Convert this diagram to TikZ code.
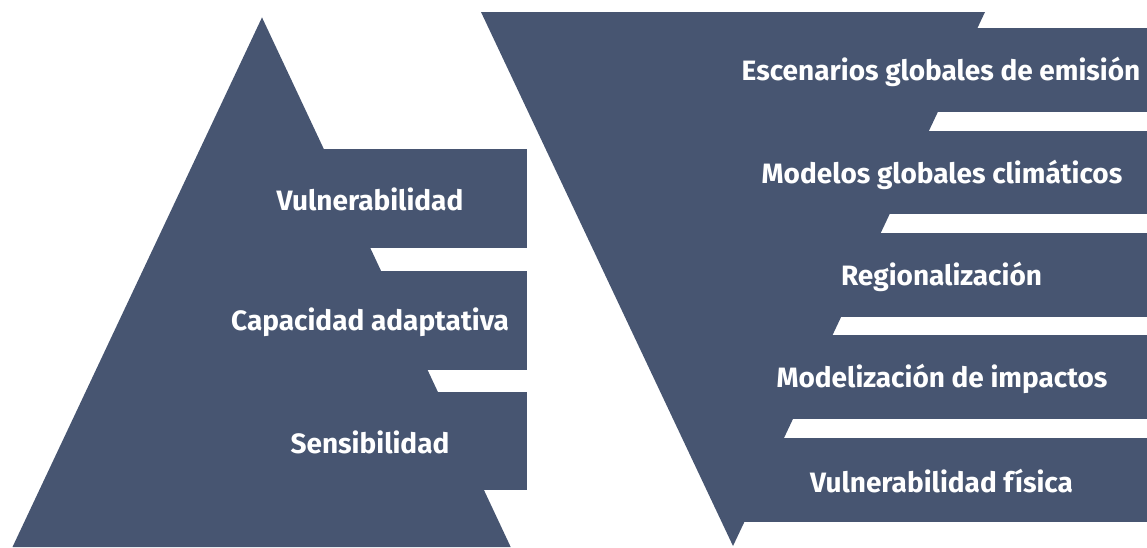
\documentclass[tikz,border=0pt]{standalone}
\usepackage{fontspec}
\usepackage{xcolor}
\usepackage{tikz}
\newfontfamily\bandfont{Fira Sans Bold}
\definecolor{pizarra}{HTML}{475571}

\begin{document}
\begin{tikzpicture}[x=1pt,y=-1pt,
    bandlabel/.style={text=white, inner sep=0pt, font=\bandfont\fontsize{28}{31}\selectfont}]
  \useasboundingbox (0,0) rectangle (1147,547);
  % Piramide izquierda
  \fill[pizarra] (12.5,547) -- (262,17.4) -- (510.7,547) -- cycle;
  \fill[pizarra] (262,149) rectangle (527,247.6);
  \fill[pizarra] (262,270.7) rectangle (527,369.7);
  \fill[pizarra] (262,392) rectangle (527,490.4);
  \node[bandlabel] (vuln) at (370,199) {Vulnerabilidad};
  \node[bandlabel] (capad) at (370,322) {Capacidad adaptativa};
  \node[bandlabel] (sens) at (370,442) {Sensibilidad};
  % Embudo derecho
  \fill[pizarra] (481,12) -- (985,12) -- (733,546) -- cycle;
  \fill[pizarra] (733,28) rectangle (1147,111.7);
  \fill[pizarra] (733,130.9) rectangle (1147,214);
  \fill[pizarra] (733,232.8) rectangle (1147,317);
  \fill[pizarra] (733,335) rectangle (1147,418.8);
  \fill[pizarra] (733,438) rectangle (1147,521.8);
  \node[bandlabel] (escen) at (941,72) {Escenarios globales de emisión};
  \node[bandlabel] (modglob) at (942,175) {Modelos globales climáticos};
  \node[bandlabel] (region) at (941.5,277) {Regionalización};
  \node[bandlabel] (modimp) at (942,379) {Modelización de impactos};
  \node[bandlabel] (vulnfis) at (941.5,481) {Vulnerabilidad física};
\end{tikzpicture}
\end{document}
